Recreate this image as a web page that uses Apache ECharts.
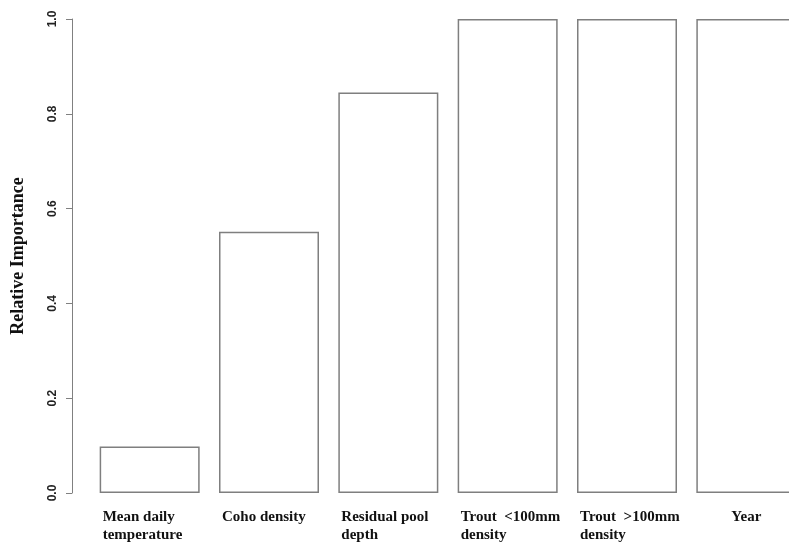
<!DOCTYPE html>
<html>
<head>
<meta charset="utf-8">
<script src="https://cdn.jsdelivr.net/npm/echarts@6/dist/echarts.min.js"></script>
<style>
  html, body { margin: 0; padding: 0; background: #fff; }
  #chart { width: 789px; height: 544px; }
</style>
</head>
<body>
<div id="chart"></div>
<script>
// categories (two-line labels as in the figure)
const categories = [
  'Mean daily\ntemperature',
  'Coho density',
  'Residual pool\ndepth',
  'Trout  <100mm\ndensity',
  'Trout  >100mm\ndensity',
  'Year'
];
const importance = [0.098, 0.551, 0.845, 1.0, 1.0, 1.0];

const chart = echarts.init(document.getElementById('chart'));

const labelFont = {
  lineHeight: 18,
  fontFamily: 'Liberation Serif', fontWeight: 'bold', fontSize: 15, color: '#111'
};

const option = {
  backgroundColor: '#fff',
  animation: false,
  grid: {
    left: 90,
    top: 19,
    width: 716,   // last bar runs off the right edge
    height: 474,
    outerBoundsMode: 'none',
    containLabel: false
  },
  xAxis: {
    type: 'category',
    data: categories,
    axisLine: { show: false },
    axisTick: { show: false },
    axisLabel: {
      interval: 0,
      margin: 15,
      align: 'center',
      formatter: function (v) {
        if (v === 'Year') return '{c|Year}';
        return v.split('\n').map(s => '{l|' + s + '}').join('\n');
      },
      rich: {
        l: Object.assign({ width: 94, align: 'left' }, labelFont),
        c: Object.assign({ width: 94, align: 'center' }, labelFont)
      }
    }
  },
  yAxis: {
    type: 'value',
    min: 0,
    max: 1,
    interval: 0.2,
    offset: 18,
    name: 'Relative Importance',
    nameLocation: 'middle',
    nameRotate: 90,
    nameGap: 45,
    nameTextStyle: {
      fontFamily: 'Liberation Serif', fontWeight: 'bold', fontSize: 18, color: '#111'
    },
    splitLine: { show: false },
    axisLine: { show: true, lineStyle: { color: '#808080', width: 1 } },
    axisTick: { show: true, length: 6, lineStyle: { color: '#808080' } },
    axisLabel: {
      rotate: 90,
      margin: 13,
      fontFamily: 'Liberation Sans', fontWeight: 'bold', fontSize: 12, color: '#222',
      formatter: v => v.toFixed(1)
    }
  },
  series: [{
    type: 'bar',
    data: importance,
    barWidth: 100,
    itemStyle: {
      color: '#fff',
      borderColor: '#7f7f7f',
      borderWidth: 1.5
    }
  }]
};

chart.setOption(option);
</script>
</body>
</html>
